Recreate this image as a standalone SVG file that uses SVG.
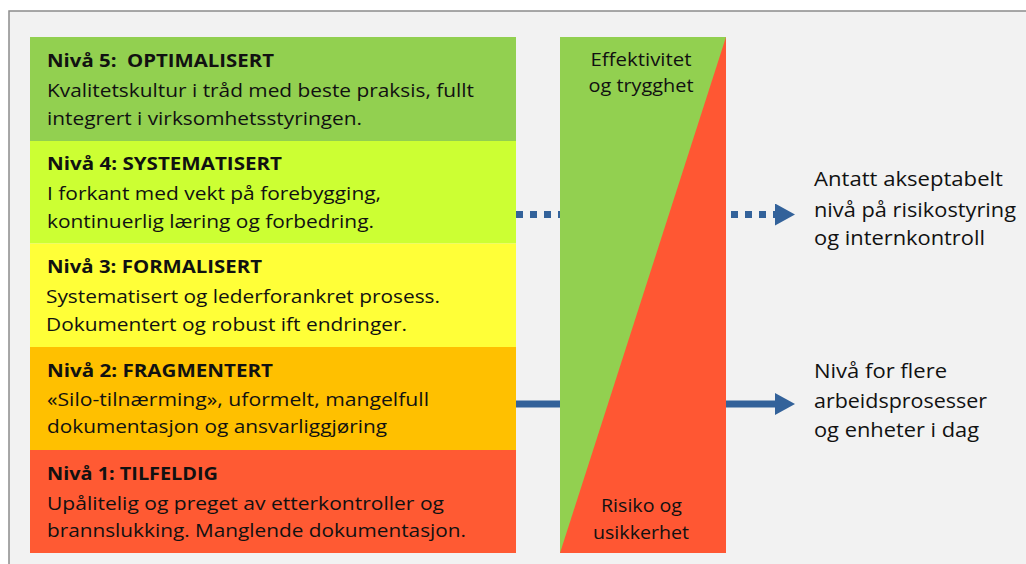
<svg xmlns="http://www.w3.org/2000/svg" width="1026" height="564" viewBox="0 0 1026 564">
  <defs>
    <style>
      .t { font-family: "Open Sans", "Noto Sans", "Liberation Sans", sans-serif; fill: #111; }
      .b { font-size: 17.5px; font-weight: bold; }
      .n { font-size: 17.5px; }
      .r { font-size: 19.5px; }
      .c { font-size: 18.5px; text-anchor: middle; }
      .arrow { stroke: #33629a; stroke-width: 7; fill: none; }
      .dots { stroke-dasharray: 7 7; }
    </style>
    <marker id="head" viewBox="0 0 20 22" refX="0" refY="11" markerWidth="20" markerHeight="22" markerUnits="userSpaceOnUse" orient="auto">
      <path d="M0,0 L20,11 L0,22 Z" fill="#33629a"/>
    </marker>
  </defs>

  <rect x="0" y="0" width="1026" height="564" fill="#ffffff"/>
  <rect x="9" y="11" width="1040" height="600" fill="#f2f2f2" stroke="#8c8c8c" stroke-width="1.5"/>

  <g id="connectors">
    <line class="arrow dots" x1="516" y1="214.5" x2="560" y2="214.5"/>
    <line class="arrow dots" x1="731" y1="214.5" x2="775" y2="214.5" stroke-dasharray="7 7 7 7 7 7 20" marker-end="url(#head)"/>
    <line class="arrow" x1="516" y1="404" x2="560" y2="404"/>
    <line class="arrow" x1="726" y1="404" x2="775" y2="404" marker-end="url(#head)"/>
  </g>

  <g id="level5">
    <rect x="30" y="37" width="486" height="104" fill="#92d050"/>
    <text class="t b" x="47" y="67" textLength="227" lengthAdjust="spacingAndGlyphs" xml:space="preserve">Nivå 5:  OPTIMALISERT</text>
    <text class="t n" x="47" y="97" textLength="427" lengthAdjust="spacingAndGlyphs">Kvalitetskultur i tråd med beste praksis, fullt</text>
    <text class="t n" x="47" y="125" textLength="315" lengthAdjust="spacingAndGlyphs">integrert i virksomhetsstyringen.</text>
  </g>

  <g id="level4">
    <rect x="30" y="141" width="486" height="102.5" fill="#ccff33"/>
    <text class="t b" x="47" y="170" textLength="235" lengthAdjust="spacingAndGlyphs">Nivå 4: SYSTEMATISERT</text>
    <text class="t n" x="47" y="200" textLength="334" lengthAdjust="spacingAndGlyphs">I forkant med vekt på forebygging,</text>
    <text class="t n" x="47" y="228" textLength="327" lengthAdjust="spacingAndGlyphs">kontinuerlig læring og forbedring.</text>
  </g>

  <g id="level3">
    <rect x="30" y="243.5" width="486" height="103.5" fill="#ffff38"/>
    <text class="t b" x="47" y="273" textLength="215" lengthAdjust="spacingAndGlyphs">Nivå 3: FORMALISERT</text>
    <text class="t n" x="46" y="303" textLength="394" lengthAdjust="spacingAndGlyphs">Systematisert og lederforankret prosess.</text>
    <text class="t n" x="46" y="331" textLength="361" lengthAdjust="spacingAndGlyphs">Dokumentert og robust ift endringer.</text>
  </g>

  <g id="level2">
    <rect x="30" y="347" width="486" height="103" fill="#ffc000"/>
    <text class="t b" x="47" y="377" textLength="226" lengthAdjust="spacingAndGlyphs">Nivå 2: FRAGMENTERT</text>
    <text class="t n" x="47" y="406" textLength="382" lengthAdjust="spacingAndGlyphs">«Silo-tilnærming», uformelt, mangelfull</text>
    <text class="t n" x="47" y="433" textLength="340" lengthAdjust="spacingAndGlyphs">dokumentasjon og ansvarliggjøring</text>
  </g>

  <g id="level1">
    <rect x="30" y="450" width="486" height="103" fill="#ff5a33"/>
    <text class="t b" x="47" y="480" textLength="171" lengthAdjust="spacingAndGlyphs">Nivå 1: TILFELDIG</text>
    <text class="t n" x="47" y="510" textLength="397" lengthAdjust="spacingAndGlyphs">Upålitelig og preget av etterkontroller og</text>
    <text class="t n" x="47" y="537" textLength="419" lengthAdjust="spacingAndGlyphs">brannslukking. Manglende dokumentasjon.</text>
  </g>

  <g id="triangle">
    <rect x="560" y="37" width="166" height="516" fill="#92d050"/>
    <polygon points="726,37 726,553 560,553" fill="#ff5733"/>
    <text class="t c" x="641" y="66" textLength="101" lengthAdjust="spacingAndGlyphs">Effektivitet</text>
    <text class="t c" x="641" y="92" textLength="105" lengthAdjust="spacingAndGlyphs">og trygghet</text>
    <text class="t c" x="641.5" y="512" textLength="81" lengthAdjust="spacingAndGlyphs">Risiko og</text>
    <text class="t c" x="641" y="539" textLength="96" lengthAdjust="spacingAndGlyphs">usikkerhet</text>
  </g>

  <g id="label-acceptable">
    <text class="t r" x="814" y="186" textLength="189" lengthAdjust="spacingAndGlyphs">Antatt akseptabelt</text>
    <text class="t r" x="814" y="217" textLength="202" lengthAdjust="spacingAndGlyphs">nivå på risikostyring</text>
    <text class="t r" x="814" y="245" textLength="171" lengthAdjust="spacingAndGlyphs">og internkontroll</text>
  </g>

  <g id="label-today">
    <text class="t r" x="814" y="378" textLength="133" lengthAdjust="spacingAndGlyphs">Nivå for flere</text>
    <text class="t r" x="814" y="408" textLength="173" lengthAdjust="spacingAndGlyphs">arbeidsprosesser</text>
    <text class="t r" x="814" y="437" textLength="165" lengthAdjust="spacingAndGlyphs">og enheter i dag</text>
  </g>
</svg>
